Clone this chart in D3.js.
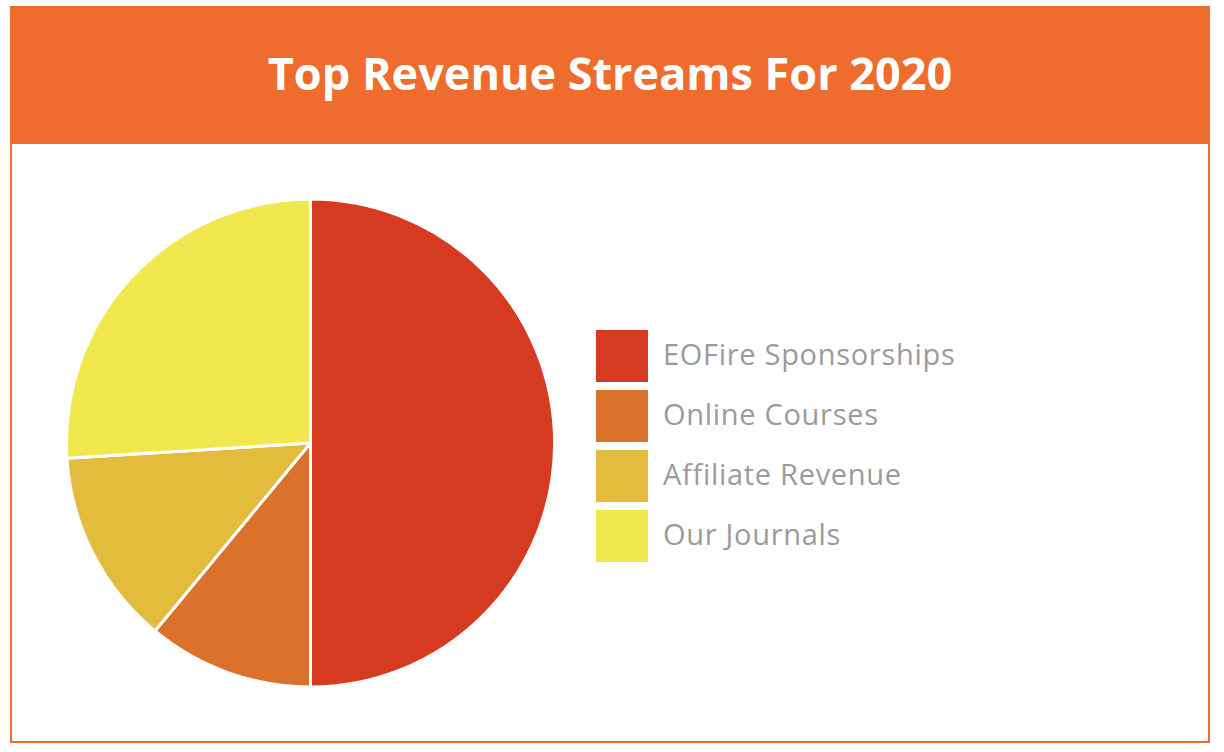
<!DOCTYPE html>
<html><head><meta charset="utf-8">
<script src="https://cdn.jsdelivr.net/npm/d3@7"></script>
<style>body{margin:0;background:#fff}svg{display:block}</style>
</head><body>
<script>
const categories = ["EOFire Sponsorships","Online Courses","Affiliate Revenue","Our Journals"];
const values = [50, 11, 13, 26];
const colors = ["#D63A20","#DA722B","#E3BC3E","#F0E84E"];
const title = "Top Revenue Streams For 2020";

const W = 1224, H = 752;
const svg = d3.select("body").append("svg").attr("width", W).attr("height", H);

// frame
svg.append("rect").attr("x", 11).attr("y", 7).attr("width", 1198).attr("height", 735)
  .attr("fill", "#fff").attr("stroke", "#EE6C2E").attr("stroke-width", 2);
svg.append("rect").attr("x", 10).attr("y", 6).attr("width", 1200).attr("height", 138).attr("fill", "#EE6C2E");
svg.append("text").attr("x", 610).attr("y", 90).attr("text-anchor", "middle")
  .attr("font-family", "'Open Sans', sans-serif").attr("font-weight", 700).attr("font-size", 45)
  .attr("fill", "#fff").text(title);

const data = categories.map((c, i) => ({name: c, value: values[i], color: colors[i]}));
const pie = d3.pie().value(d => d.value).sort(null);
const arc = d3.arc().innerRadius(0).outerRadius(244);
const g = svg.append("g").attr("transform", "translate(310.5,443)");
g.selectAll("path").data(pie(data)).join("path")
  .attr("d", arc).attr("fill", d => d.data.color)
  .attr("stroke", "#fff").attr("stroke-width", 3).attr("stroke-linejoin", "round");

const leg = svg.append("g").attr("transform", "translate(596,330)");
const items = leg.selectAll("g").data(data).join("g").attr("transform", (d, i) => `translate(0,${i * 60})`);
items.append("rect").attr("width", 52).attr("height", 52).attr("fill", d => d.color);
items.append("text").attr("x", 67).attr("y", 34.5)
  .attr("font-family", "'Open Sans', sans-serif").attr("font-size", 29).attr("letter-spacing", 0.7)
  .attr("fill", "#9B9B9B")
  .text(d => d.name);
</script>
</body></html>
